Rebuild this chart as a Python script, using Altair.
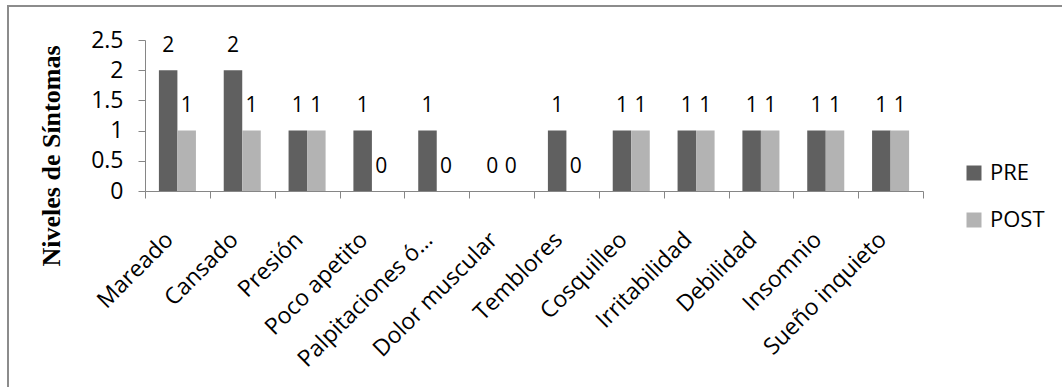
import altair as alt
import pandas as pd

# Symptom levels before (PRE) and after (POST)
categories = ["Mareado", "Cansado", "Presión", "Poco apetito", "Palpitaciones  ó…",
              "Dolor muscular", "Temblores", "Cosquilleo", "Irritabilidad",
              "Debilidad", "Insomnio", "Sueño inquieto"]
pre = [2, 2, 1, 1, 1, 0, 1, 1, 1, 1, 1, 1]
post = [1, 1, 1, 0, 0, 0, 0, 1, 1, 1, 1, 1]
series = ["PRE", "POST"]
colors = ["#606060", "#b3b3b3"]
y_ticks = [0, 0.5, 1, 1.5, 2, 2.5]

rows = []
for cat, a, b in zip(categories, pre, post):
    rows.append({"sintoma": cat, "serie": "PRE", "valor": a})
    rows.append({"sintoma": cat, "serie": "POST", "valor": b})
df = pd.DataFrame(rows)

SANS = "Open Sans"
AXIS_GRAY = "#868686"

x_enc = alt.X(
    "sintoma:N", sort=categories, title=None,
    scale=alt.Scale(paddingInner=0, paddingOuter=0),
    axis=alt.Axis(labelAngle=-45, labelFont=SANS, labelFontSize=23, labelColor="black",
                  tickBand="extent", tickSize=7, tickColor=AXIS_GRAY, domainColor=AXIS_GRAY,
                  labelPadding=30, labelOffset=-16, labelOverlap=False, labelFlush=False,
                  labelBound=False, labelLimit=400),
)
xoff_enc = alt.XOffset("serie:N", sort=series,
                       scale=alt.Scale(paddingInner=0, paddingOuter=0.75))
y_enc = alt.Y(
    "valor:Q", title="Niveles de Síntomas",
    scale=alt.Scale(domain=[0, 2.5], nice=False),
    axis=alt.Axis(values=y_ticks, format="~g", grid=False, labelFont=SANS, labelFontSize=23,
                  labelColor="black", tickSize=7, tickColor=AXIS_GRAY, domainColor=AXIS_GRAY,
                  labelPadding=15, labelOverlap=False, labelFlush=False, labelBound=False,
                  titleFont="Liberation Serif", titleFontWeight="bold",
                  titleFontSize=26, titleColor="black", titleAngle=270, titleX=-86,
                  titleY=115.5, titleAlign="center", titleBaseline="alphabetic"),
)
color_enc = alt.Color(
    "serie:N", sort=series,
    scale=alt.Scale(domain=series, range=colors),
    legend=alt.Legend(orient="none", legendX=818, legendY=122, title=None,
                      symbolType="square", symbolSize=225, symbolStrokeWidth=0,
                      labelFont=SANS, labelFontSize=22, labelColor="black",
                      rowPadding=25, labelOffset=5, padding=0),
)

base = alt.Chart(df).encode(x=x_enc, xOffset=xoff_enc, y=y_enc)
bars = base.mark_bar(size=18.5).encode(color=color_enc)
labels = base.mark_text(font=SANS, fontSize=21, color="black", baseline="alphabetic",
                        dy=-18.5).encode(text="valor:Q")

# Outer frame around the whole chart
frame = alt.Chart(pd.DataFrame({"k": [0]})).mark_rect(
    fill="transparent", stroke="#8c8c8c", strokeWidth=2
).encode(x=alt.value(-137), x2=alt.value(940), y=alt.value(-34), y2=alt.value(420))

chart = alt.layer(frame, bars, labels).properties(
    width=778, height=151,
    autosize=alt.AutoSizeParams(type="none"),
    padding={"left": 145, "top": 40, "right": 139, "bottom": 196},
).configure(background="white").configure_view(strokeWidth=0)

chart.save("out.html", embed_options={"renderer": "svg", "actions": False})
